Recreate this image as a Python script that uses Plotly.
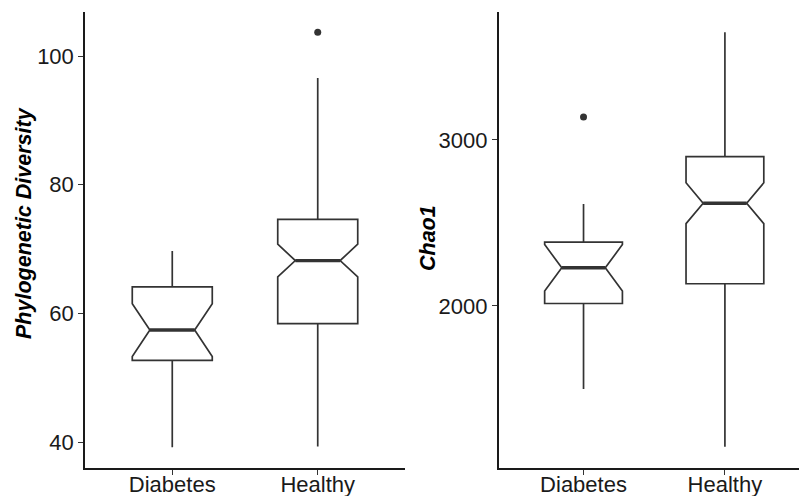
import plotly.graph_objects as go

# Groups
categories = ["Diabetes", "Healthy"]

# Phylogenetic Diversity summary statistics per group
pd_lower = [39.2, 39.3]
pd_q1 = [52.7, 58.4]
pd_median = [57.4, 68.2]
pd_q3 = [64.1, 74.6]
pd_upper = [69.7, 96.6]
pd_notch = [4.1, 2.55]
pd_outlier_group = [1]
pd_outlier_value = [103.7]

# Chao1 summary statistics per group
chao_lower = [1500, 1152]
chao_q1 = [2015, 2134]
chao_median = [2230, 2619]
chao_q3 = [2385, 2900]
chao_upper = [2614, 3649]
chao_notch = [140, 123]
chao_outlier_group = [0]
chao_outlier_value = [3138]

pd_ticks = [40, 60, 80, 100]
chao_ticks = [2000, 3000]

W, H = 799, 496
LINE = "#333333"
BOX_WIDTH = 0.55
NOTCH_WIDTH = 0.22
FONT = "Liberation Sans, Arial, sans-serif"

fig = go.Figure()


def add_panel(fig, xa, ya, lower, q1, med, q3, upper, notch, og, ov):
    xs = list(range(len(categories)))
    fig.add_trace(go.Box(
        x=xs, q1=q1, median=med, q3=q3, lowerfence=lower, upperfence=upper,
        notched=True, notchspan=notch, notchwidth=NOTCH_WIDTH,
        width=BOX_WIDTH, whiskerwidth=0, boxpoints=False,
        fillcolor="white", line=dict(color=LINE, width=1.7),
        xaxis=xa, yaxis=ya, showlegend=False, hoverinfo="skip",
    ))
    # thicker median segments, spanning the notch waist
    half = BOX_WIDTH / 2 * (1 - 2 * NOTCH_WIDTH)
    for i, m in enumerate(med):
        fig.add_trace(go.Scatter(
            x=[i - half, i + half], y=[m, m], mode="lines",
            line=dict(color=LINE, width=3.4), xaxis=xa, yaxis=ya,
            showlegend=False, hoverinfo="skip",
        ))
    fig.add_trace(go.Scatter(
        x=og, y=ov, mode="markers",
        marker=dict(color=LINE, size=7, line=dict(width=0)),
        xaxis=xa, yaxis=ya, showlegend=False, hoverinfo="skip",
    ))


add_panel(fig, "x", "y", pd_lower, pd_q1, pd_median, pd_q3, pd_upper, pd_notch,
          pd_outlier_group, pd_outlier_value)
add_panel(fig, "x2", "y2", chao_lower, chao_q1, chao_median, chao_q3, chao_upper,
          chao_notch, chao_outlier_group, chao_outlier_value)

y_dom = [28 / H, 484 / H]
axis_common = dict(
    showline=True, linecolor="#1a1a1a", linewidth=1.5, showgrid=False, zeroline=False,
    ticks="outside", ticklen=5, tickwidth=1.3, tickcolor="#333333", automargin=False,
    tickfont=dict(family=FONT, size=22, color="#1a1a1a"),
)
x_common = dict(axis_common, ticklabelstandoff=-9)

fig.update_layout(
    width=W, height=H, margin=dict(l=0, r=0, t=0, b=0),
    paper_bgcolor="white", plot_bgcolor="white",
    xaxis=dict(domain=[85 / W, 405 / W], range=[-0.6, 1.6], anchor="y",
               tickvals=[0, 1], ticktext=categories, **x_common),
    yaxis=dict(domain=y_dom, range=[35.96, 106.84], anchor="x",
               tickvals=pd_ticks, **axis_common),
    xaxis2=dict(domain=[498.7 / W, 1.0], range=[-0.6, 1.524], anchor="y2",
                tickvals=[0, 1], ticktext=categories, **x_common),
    yaxis2=dict(domain=y_dom, range=[1024, 3771], anchor="x2",
                tickvals=chao_ticks, **axis_common),
    annotations=[
        dict(text="<b><i>Phylogenetic Diversity</i></b>", textangle=-90,
             x=24 / W, y=1 - 223 / H, xref="paper", yref="paper",
             xanchor="center", yanchor="middle", showarrow=False,
             font=dict(family=FONT, size=21.5, color="black")),
        dict(text="<b><i>Chao1</i></b>", textangle=-90,
             x=427.5 / W, y=1 - 238.5 / H, xref="paper", yref="paper",
             xanchor="center", yanchor="middle", showarrow=False,
             font=dict(family=FONT, size=21.5, color="black")),
    ],
)

fig.write_html("out.html")
